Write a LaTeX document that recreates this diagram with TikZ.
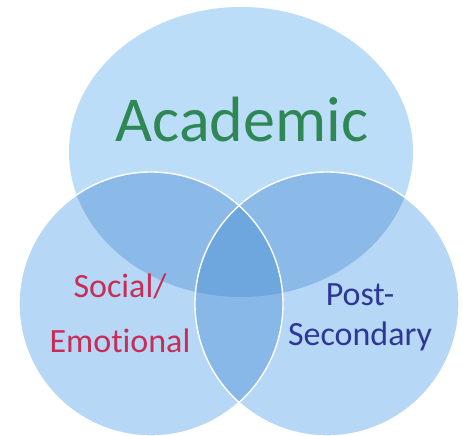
\documentclass[tikz,border=0pt]{standalone}
\usepackage{fontspec}
\setmainfont{Carlito}[Ligatures={NoCommon,NoContextual}]
\definecolor{topc}{RGB}{188,221,248}
\definecolor{sidec}{RGB}{183,215,246}
\definecolor{dblc}{RGB}{139,186,233}
\definecolor{lensc}{RGB}{136,184,232}
\definecolor{tripc}{RGB}{110,167,222}
\definecolor{acadc}{RGB}{46,135,85}
\definecolor{socc}{RGB}{200,45,85}
\definecolor{postc}{RGB}{45,55,150}
\tikzset{
  lbl/.style={anchor=base, inner sep=0pt, font=\fontsize{34}{40}\selectfont},
  rim/.style={draw=white, line width=1.4pt}
}
\def\topE{(241,152) ellipse [x radius=172pt, y radius=145pt]}
\def\leftC{(151,304) circle [radius=132pt]}
\def\rightC{(327,304) circle [radius=132pt]}
\begin{document}
\begin{tikzpicture}[x=1pt,y=-1pt]
\useasboundingbox (0,0) rectangle (463,436);
\fill[white] (0,0) rectangle (463,436);
\fill[topc] \topE;
\fill[sidec] \leftC;
\fill[sidec] \rightC;
\begin{scope}
  \clip \topE;
  \fill[dblc] \leftC;
  \fill[dblc] \rightC;
\end{scope}
\begin{scope}
  \clip \leftC;
  \fill[lensc] \rightC;
  \clip \rightC;
  \fill[tripc] \topE;
\end{scope}
\draw[rim] \leftC;
\draw[rim] \rightC;
\node[anchor=base, inner sep=0pt, text=acadc, font=\fontsize{64}{70}\selectfont] (acad) at (242,141) {Academic};
\node[lbl, text=socc] (soc1) at (120,297) {Social/};
\node[lbl, text=socc] (soc2) at (120,352) {Emot\kern0pt ional};
\node[lbl, text=postc] (post1) at (360,305) {Post-};
\node[lbl, text=postc] (post2) at (360,345) {Secondary};
\end{tikzpicture}
\end{document}
